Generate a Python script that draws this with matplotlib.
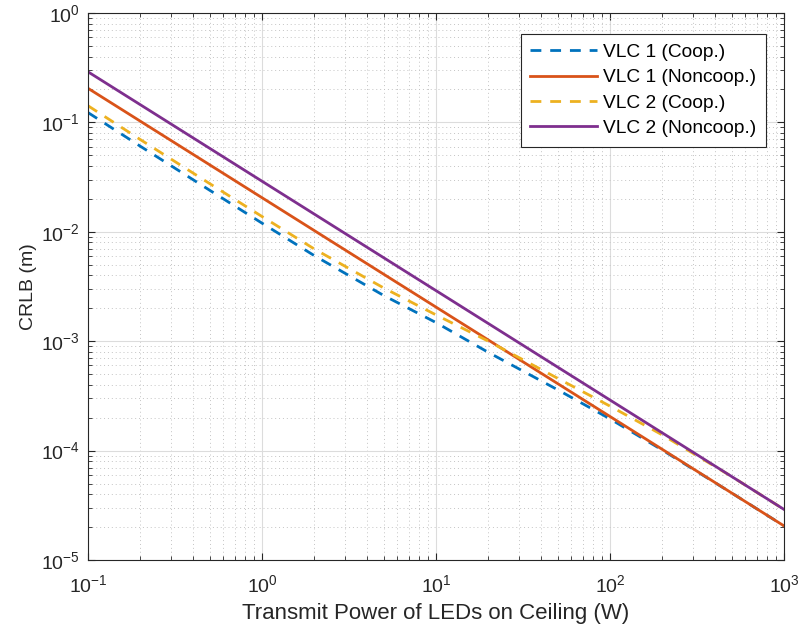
import matplotlib
matplotlib.use("Agg")
import matplotlib.pyplot as plt
import numpy as np
from matplotlib.ticker import LogLocator, NullFormatter, FuncFormatter

plt.rcParams['font.family'] = ['Liberation Sans', 'DejaVu Sans']
plt.rcParams['mathtext.fontset'] = 'custom'
plt.rcParams['mathtext.rm'] = 'Liberation Sans'
plt.rcParams['mathtext.it'] = 'Liberation Sans'
plt.rcParams['mathtext.bf'] = 'Liberation Sans'

# transmit power (W)
power = [0.1, 0.2, 0.5, 1, 2, 5, 10, 20, 50, 100, 200, 500, 1000]

# CRLB (m)
vlc1_coop = [0.123, 0.0605, 0.024, 0.0120, 0.00605, 0.00262, 0.00148, 0.00079,
             0.00036, 0.000195, 0.000101, 0.000041, 0.0000205]
vlc1_noncoop = [0.205, 0.1025, 0.041, 0.0205, 0.01025, 0.0041, 0.00205, 0.001025,
                0.00041, 0.000205, 0.0001025, 0.000041, 0.0000205]
vlc2_coop = [0.142, 0.0696, 0.0276, 0.0138, 0.00696, 0.00307, 0.00174, 0.00100,
             0.000458, 0.000255, 0.000139, 0.000058, 0.000029]
vlc2_noncoop = [0.29, 0.145, 0.058, 0.029, 0.0145, 0.0058, 0.0029, 0.00145,
                0.00058, 0.00029, 0.000145, 0.000058, 0.000029]

labels = ["VLC 1 (Coop.)", "VLC 1 (Noncoop.)", "VLC 2 (Coop.)", "VLC 2 (Noncoop.)"]
colors = ["#0072BD", "#D95319", "#EDB120", "#7E2F8E"]
dark = "#262626"

fig = plt.figure(figsize=(8.02, 6.35), dpi=100)
ax = fig.add_axes([88/802, 1-560/635, 696/802, 547/635])

ax.plot(power, vlc1_coop, color=colors[0], lw=2.0, dashes=(3.9, 3.2), label=labels[0])
ax.plot(power, vlc1_noncoop, color=colors[1], lw=2.0, label=labels[1])
ax.plot(power, vlc2_coop, color=colors[2], lw=2.0, dashes=(3.9, 3.2), label=labels[2])
ax.plot(power, vlc2_noncoop, color=colors[3], lw=2.0, label=labels[3])

ax.set_xscale("log")
ax.set_yscale("log")
ax.set_xlim(0.1, 1000)
ax.set_ylim(1e-5, 1)

def pow_label(v, pos):
    return r'$\mathregular{10^{%d}}$' % int(round(np.log10(v)))

ax.xaxis.set_major_locator(LogLocator(base=10, numticks=10))
ax.yaxis.set_major_locator(LogLocator(base=10, numticks=10))
ax.xaxis.set_major_formatter(FuncFormatter(pow_label))
ax.yaxis.set_major_formatter(FuncFormatter(pow_label))
ax.xaxis.set_minor_locator(LogLocator(base=10, subs=range(2, 10), numticks=20))
ax.yaxis.set_minor_locator(LogLocator(base=10, subs=range(2, 10), numticks=20))
ax.xaxis.set_minor_formatter(NullFormatter())
ax.yaxis.set_minor_formatter(NullFormatter())

ax.grid(True, which="major", color="#dcdcdc", lw=0.8, ls="-")
ax.grid(True, which="minor", color="#c4c4c4", lw=0.7, ls=(0, (1, 3)))
ax.set_axisbelow(True)

ax.tick_params(which="both", direction="in", top=True, right=True, colors=dark,
               labelsize=14, labelcolor=dark)
ax.tick_params(which="major", length=5, width=0.8)
ax.tick_params(which="minor", length=3, width=0.6)
ax.tick_params(axis="x", pad=10)
ax.tick_params(axis="y", pad=6)
for s in ax.spines.values():
    s.set_color(dark)
    s.set_linewidth(0.8)

ax.set_xlabel("Transmit Power of LEDs on Ceiling (W)", fontsize=16, color=dark, labelpad=5)
ax.set_ylabel("CRLB (m)", fontsize=14, color=dark, labelpad=3)

leg = ax.legend(loc="upper right", bbox_to_anchor=(0.974, 0.962), fontsize=13.8,
                handlelength=3.5, labelspacing=0.42, borderpad=0.5, handletextpad=0.3,
                fancybox=False, framealpha=1, edgecolor=dark, borderaxespad=0)
leg.get_frame().set_linewidth(0.8)
for t in leg.get_texts():
    t.set_color("black")

fig.savefig("out.png", dpi=100)
